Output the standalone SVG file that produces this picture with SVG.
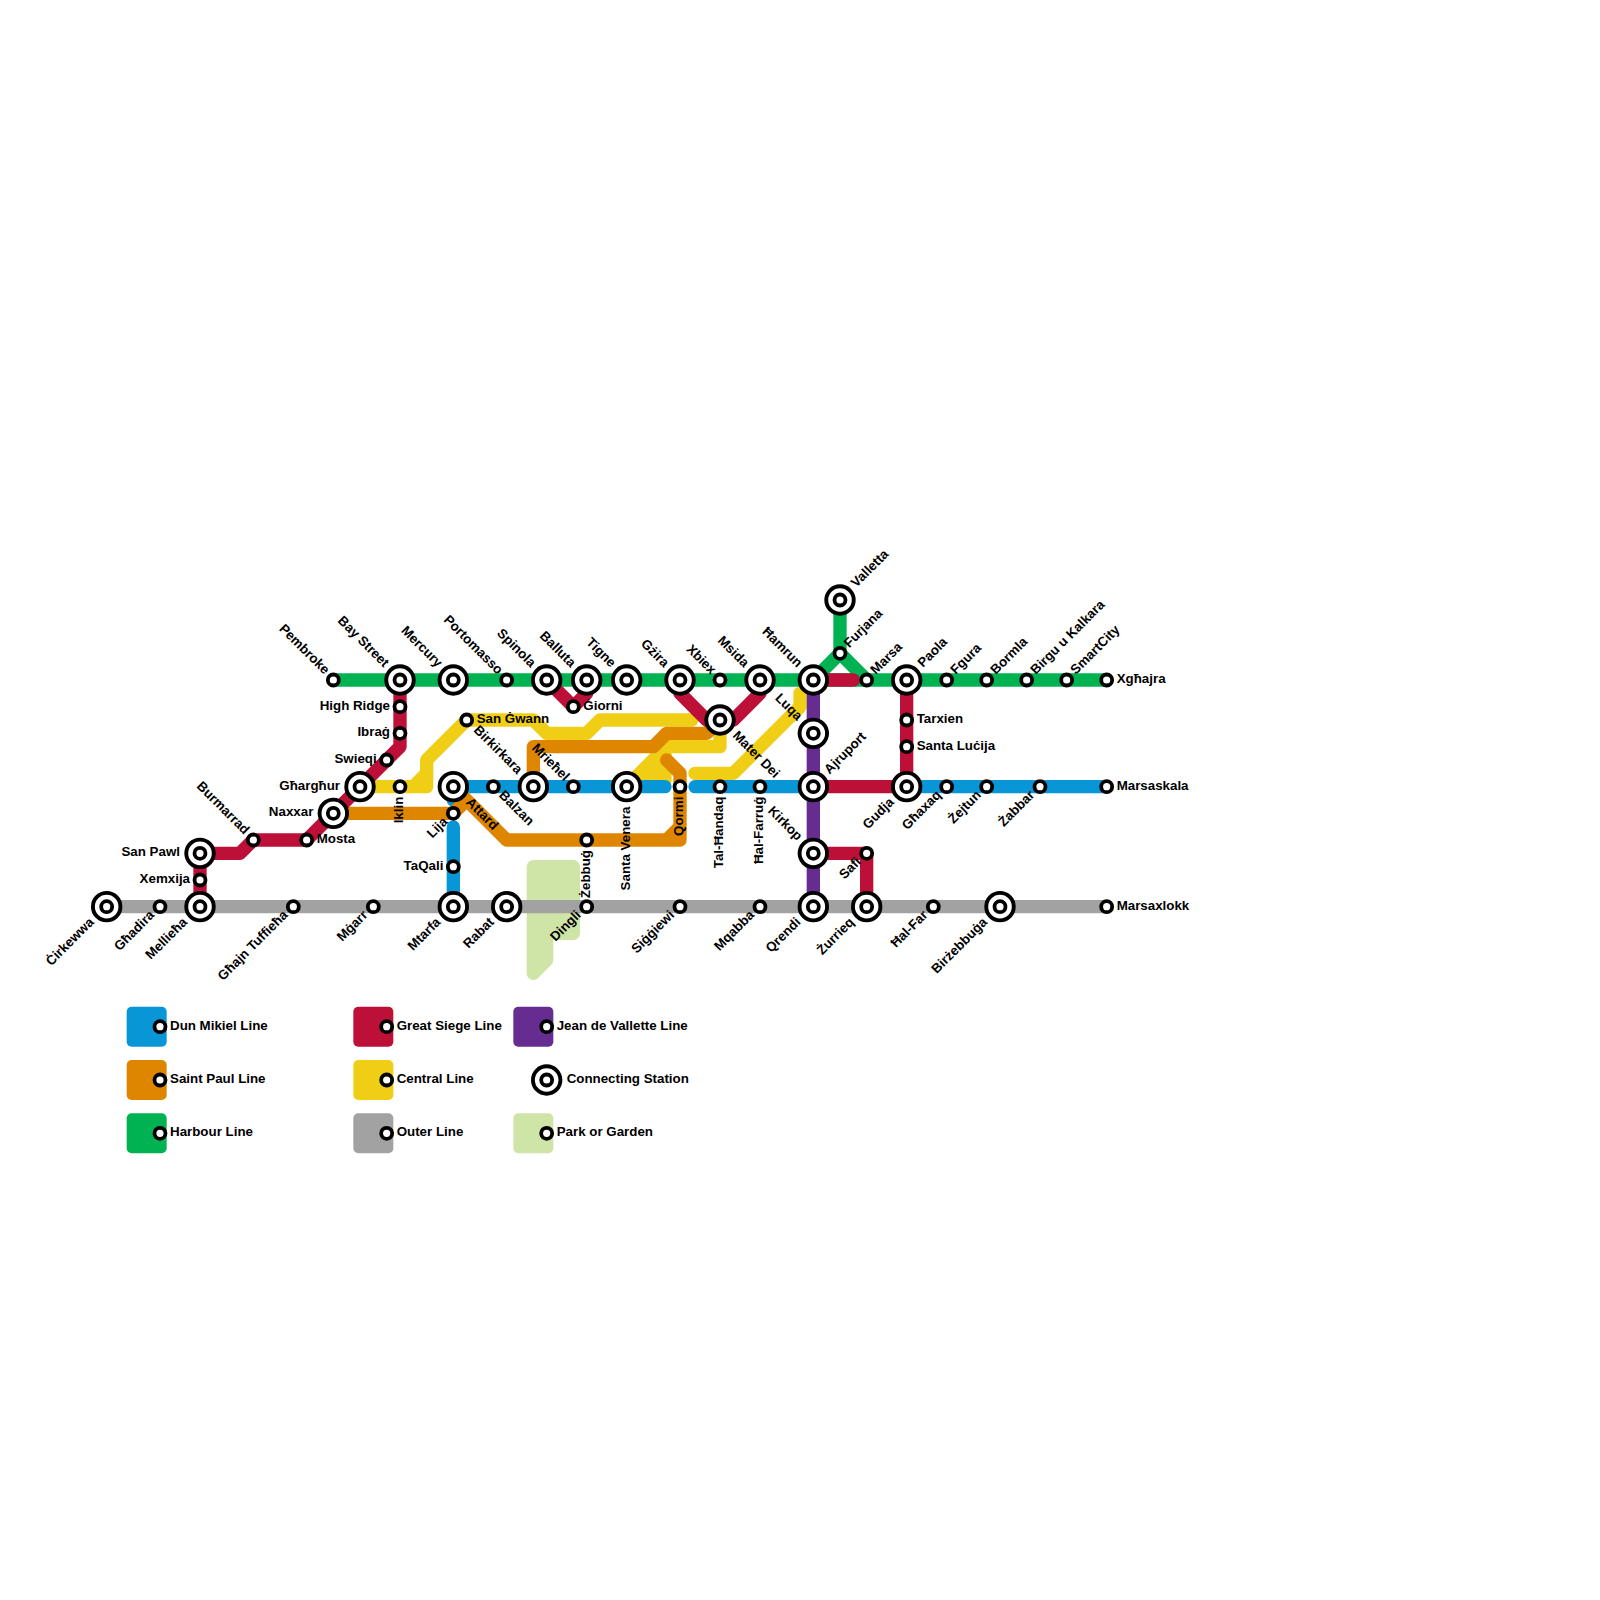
<svg xmlns="http://www.w3.org/2000/svg" width="1600" height="1600" viewBox="0 0 1600 1600">
<style>
.l{fill:none;stroke-width:13.33;stroke-linecap:round;stroke-linejoin:round}
.blue{stroke:#0896d7}.red{stroke:#bd1038}.orange{stroke:#df8600}.yellow{stroke:#f0ce15}.green{stroke:#00b251}.grey{stroke:#a2a2a2}.purple{stroke:#662c90}
.park{stroke:#cfe4a7;fill:#cfe4a7}
.yf{fill:#f0ce15}
.s{fill:#fff;stroke:#000;stroke-width:3.8;r:5.5px}
.c{fill:#fff;stroke:#000;stroke-width:3.9;r:13.75px}
text{font-family:"Liberation Sans",Arial,sans-serif;font-weight:700;font-size:13.33px;fill:#000}
.e{text-anchor:end}
</style>
<g id="connectors">
<path class="l park" d="M533.33 866.67H573.33V933.33H546.67V960L533.33 973.33Z"/>
<path class="l grey" d="M106.67 906.67H1106.67"/>
<path class="l green" d="M333.33 680H1106.67M840 600V653.33L813.33 680M840 653.33L866.67 680"/>
<path class="l yellow" d="M360 786.67H426.67V760L466.67 720H533.33L546.67 733.33H586.67L600 720H691.67M413.33 786.67L426.67 773.33"/>
<path class="l yellow yf" d="M626.67 786.67L665 748.33V780H626.67Z"/>
<path class="l yellow" d="M626.67 786.67L666.67 746.67H720V720"/>
<path class="l yellow" d="M695 773.33H733.33L800 706.67V693.33"/>
<path class="l blue" d="M453.33 906.67V827M453.33 800V786.67H665M695 786.67H813.33M906.67 786.67H1106.67"/>
<path class="l orange" d="M333.33 813.33H453.33L466.67 800M453.33 786.67L506.67 840H680V773.33L666.67 760M666.67 840L680 826.67"/>
<path class="l orange" d="M533.33 786.67V746.67H653.33L666.67 733.33H706.67L720 720"/>
<path class="l red" d="M200 906.67V853.33H240L253.33 840H306.67L400 746.67V680"/>
<path class="l red" d="M546.67 680L573.33 706.67L586.67 693.33V680M680 680V693.33L706.67 720H733.33L760 693.33V680M813.33 680H853.33M813.33 786.67H906.67V680M813.33 853.33H866.67V906.67"/>
<path class="l purple" d="M813.33 680V906.67"/>
</g>
<g id="cirkewwa"><circle class="c" cx="106.67" cy="906.67"/><circle class="s" cx="106.67" cy="906.67"/><text class="e" transform="translate(106.67 906.67) rotate(-45)" x="-20" y="3">Ċirkewwa</text></g>
<g id="ghadira"><circle class="s" cx="160" cy="906.67"/><text class="e" transform="translate(160 906.67) rotate(-45)" x="-10" y="3">Għadira</text></g>
<g id="mellieha"><circle class="c" cx="200" cy="906.67"/><circle class="s" cx="200" cy="906.67"/><text class="e" transform="translate(200 906.67) rotate(-45)" x="-20" y="3">Mellieħa</text></g>
<g id="xemxija"><circle class="s" cx="200" cy="880"/><text class="e" x="190" y="883">Xemxija</text></g>
<g id="san-pawl"><circle class="c" cx="200" cy="853.33"/><circle class="s" cx="200" cy="853.33"/><text class="e" x="180" y="856.33">San Pawl</text></g>
<g id="burmarrad"><circle class="s" cx="253.33" cy="840"/><text class="e" transform="translate(253.33 840) rotate(45)" x="-10" y="3">Burmarrad</text></g>
<g id="mosta"><circle class="s" cx="306.67" cy="840"/><text x="316.67" y="843">Mosta</text></g>
<g id="naxxar"><circle class="c" cx="333.33" cy="813.33"/><circle class="s" cx="333.33" cy="813.33"/><text class="e" x="313.33" y="816.33">Naxxar</text></g>
<g id="gharghur"><circle class="c" cx="360" cy="786.67"/><circle class="s" cx="360" cy="786.67"/><text class="e" x="340" y="789.67">Għargħur</text></g>
<g id="swieqi"><circle class="s" cx="386.67" cy="760"/><text class="e" x="376.67" y="763">Swieqi</text></g>
<g id="ibrag"><circle class="s" cx="400" cy="733.33"/><text class="e" x="390" y="736.33">Ibraġ</text></g>
<g id="high-ridge"><circle class="s" cx="400" cy="706.67"/><text class="e" x="390" y="709.67">High Ridge</text></g>
<g id="bay-street"><circle class="c" cx="400" cy="680"/><circle class="s" cx="400" cy="680"/><text class="e" transform="translate(400 680) rotate(45)" x="-20" y="3">Bay Street</text></g>
<g id="pembroke"><circle class="s" cx="333.33" cy="680"/><text class="e" transform="translate(333.33 680) rotate(45)" x="-10" y="3">Pembroke</text></g>
<g id="mercury"><circle class="c" cx="453.33" cy="680"/><circle class="s" cx="453.33" cy="680"/><text class="e" transform="translate(453.33 680) rotate(45)" x="-20" y="3">Mercury</text></g>
<g id="iklin"><circle class="s" cx="400" cy="786.67"/><text class="e" transform="translate(400 786.67) rotate(-90)" x="-10" y="3">Iklin</text></g>
<g id="san-gwann"><circle class="s" cx="466.67" cy="720"/><text x="476.67" y="723">San Ġwann</text></g>
<g id="attard"><circle class="c" cx="453.33" cy="786.67"/><circle class="s" cx="453.33" cy="786.67"/><text transform="translate(453.33 786.67) rotate(45)" x="20" y="3">Attard</text></g>
<g id="lija"><circle class="s" cx="453.33" cy="813.33"/><text class="e" transform="translate(453.33 813.33) rotate(-45)" x="-10" y="3">Lija</text></g>
<g id="taqali"><circle class="s" cx="453.33" cy="866.67"/><text class="e" x="443.33" y="869.67">TaQali</text></g>
<g id="mtarfa"><circle class="c" cx="453.33" cy="906.67"/><circle class="s" cx="453.33" cy="906.67"/><text class="e" transform="translate(453.33 906.67) rotate(-45)" x="-20" y="3">Mtarfa</text></g>
<g id="balzan"><circle class="s" cx="493.33" cy="786.67"/><text transform="translate(493.33 786.67) rotate(45)" x="10" y="3">Balzan</text></g>
<g id="birkirkara"><circle class="c" cx="533.33" cy="786.67"/><circle class="s" cx="533.33" cy="786.67"/><text class="e" transform="translate(533.33 786.67) rotate(45)" x="-20" y="3">Birkirkara</text></g>
<g id="mriehel"><circle class="s" cx="573.33" cy="786.67"/><text class="e" transform="translate(573.33 786.67) rotate(45)" x="-10" y="3">Mrieħel</text></g>
<g id="santa-venera"><circle class="c" cx="626.67" cy="786.67"/><circle class="s" cx="626.67" cy="786.67"/><text class="e" transform="translate(626.67 786.67) rotate(-90)" x="-20" y="3">Santa Venera</text></g>
<g id="qormi"><circle class="s" cx="680" cy="786.67"/><text class="e" transform="translate(680 786.67) rotate(-90)" x="-10" y="3">Qormi</text></g>
<g id="tal-handaq"><circle class="s" cx="720" cy="786.67"/><text class="e" transform="translate(720 786.67) rotate(-90)" x="-10" y="3">Tal-Ħandaq</text></g>
<g id="hal-farrug"><circle class="s" cx="760" cy="786.67"/><text class="e" transform="translate(760 786.67) rotate(-90)" x="-10" y="3">Ħal-Farruġ</text></g>
<g id="ajruport"><circle class="c" cx="813.33" cy="786.67"/><circle class="s" cx="813.33" cy="786.67"/><text transform="translate(813.33 786.67) rotate(-45)" x="20" y="3">Ajruport</text></g>
<g id="zebbug"><circle class="s" cx="586.67" cy="840"/><text class="e" transform="translate(586.67 840) rotate(-90)" x="-10" y="3">Żebbuġ</text></g>
<g id="dingli"><circle class="s" cx="586.67" cy="906.67"/><text class="e" transform="translate(586.67 906.67) rotate(-45)" x="-10" y="3">Dingli</text></g>
<g id="rabat"><circle class="c" cx="506.67" cy="906.67"/><circle class="s" cx="506.67" cy="906.67"/><text class="e" transform="translate(506.67 906.67) rotate(-45)" x="-20" y="3">Rabat</text></g>
<g id="ghajn-tuffieha"><circle class="s" cx="293.33" cy="906.67"/><text class="e" transform="translate(293.33 906.67) rotate(-45)" x="-10" y="3">Għajn Tuffieħa</text></g>
<g id="mgarr"><circle class="s" cx="373.33" cy="906.67"/><text class="e" transform="translate(373.33 906.67) rotate(-45)" x="-10" y="3">Mġarr</text></g>
<g id="siggiewi"><circle class="s" cx="680" cy="906.67"/><text class="e" transform="translate(680 906.67) rotate(-45)" x="-10" y="3">Siġġiewi</text></g>
<g id="mqabba"><circle class="s" cx="760" cy="906.67"/><text class="e" transform="translate(760 906.67) rotate(-45)" x="-10" y="3">Mqabba</text></g>
<g id="qrendi"><circle class="c" cx="813.33" cy="906.67"/><circle class="s" cx="813.33" cy="906.67"/><text class="e" transform="translate(813.33 906.67) rotate(-45)" x="-20" y="3">Qrendi</text></g>
<g id="zurrieq"><circle class="c" cx="866.67" cy="906.67"/><circle class="s" cx="866.67" cy="906.67"/><text class="e" transform="translate(866.67 906.67) rotate(-45)" x="-20" y="3">Żurrieq</text></g>
<g id="hal-far"><circle class="s" cx="933.33" cy="906.67"/><text class="e" transform="translate(933.33 906.67) rotate(-45)" x="-10" y="3">Ħal-Far</text></g>
<g id="birzebbuga"><circle class="c" cx="1000" cy="906.67"/><circle class="s" cx="1000" cy="906.67"/><text class="e" transform="translate(1000 906.67) rotate(-45)" x="-20" y="3">Birżebbuġa</text></g>
<g id="marsaxlokk"><circle class="s" cx="1106.67" cy="906.67"/><text x="1116.67" y="909.67">Marsaxlokk</text></g>
<g id="portomasso"><circle class="s" cx="506.67" cy="680"/><text class="e" transform="translate(506.67 680) rotate(45)" x="-10" y="3">Portomasso</text></g>
<g id="spinola"><circle class="c" cx="546.67" cy="680"/><circle class="s" cx="546.67" cy="680"/><text class="e" transform="translate(546.67 680) rotate(45)" x="-20" y="3">Spinola</text></g>
<g id="balluta"><circle class="c" cx="586.67" cy="680"/><circle class="s" cx="586.67" cy="680"/><text class="e" transform="translate(586.67 680) rotate(45)" x="-20" y="3">Balluta</text></g>
<g id="tigne"><circle class="c" cx="626.67" cy="680"/><circle class="s" cx="626.67" cy="680"/><text class="e" transform="translate(626.67 680) rotate(45)" x="-20" y="3">Tigne</text></g>
<g id="gzira"><circle class="c" cx="680" cy="680"/><circle class="s" cx="680" cy="680"/><text class="e" transform="translate(680 680) rotate(45)" x="-20" y="3">Gżira</text></g>
<g id="xbiex"><circle class="s" cx="720" cy="680"/><text class="e" transform="translate(720 680) rotate(45)" x="-10" y="3">Xbiex</text></g>
<g id="msida"><circle class="c" cx="760" cy="680"/><circle class="s" cx="760" cy="680"/><text class="e" transform="translate(760 680) rotate(45)" x="-20" y="3">Msida</text></g>
<g id="hamrun"><circle class="c" cx="813.33" cy="680"/><circle class="s" cx="813.33" cy="680"/><text class="e" transform="translate(813.33 680) rotate(45)" x="-20" y="3">Ħamrun</text></g>
<g id="marsa"><circle class="s" cx="866.67" cy="680"/><text transform="translate(866.67 680) rotate(-45)" x="10" y="3">Marsa</text></g>
<g id="paola"><circle class="c" cx="906.67" cy="680"/><circle class="s" cx="906.67" cy="680"/><text transform="translate(906.67 680) rotate(-45)" x="20" y="3">Paola</text></g>
<g id="fgura"><circle class="s" cx="946.67" cy="680"/><text transform="translate(946.67 680) rotate(-45)" x="10" y="3">Fgura</text></g>
<g id="bormla"><circle class="s" cx="986.67" cy="680"/><text transform="translate(986.67 680) rotate(-45)" x="10" y="3">Bormla</text></g>
<g id="birgu"><circle class="s" cx="1026.67" cy="680"/><text transform="translate(1026.67 680) rotate(-45)" x="10" y="3">Birgu u Kalkara</text></g>
<g id="smartcity"><circle class="s" cx="1066.67" cy="680"/><text transform="translate(1066.67 680) rotate(-45)" x="10" y="3">SmartCity</text></g>
<g id="xghajra"><circle class="s" cx="1106.67" cy="680"/><text x="1116.67" y="683">Xgħajra</text></g>
<g id="giorni"><circle class="s" cx="573.33" cy="706.67"/><text x="583.33" y="709.67">Ġiorni</text></g>
<g id="mater-dei"><circle class="c" cx="720" cy="720"/><circle class="s" cx="720" cy="720"/><text transform="translate(720 720) rotate(45)" x="20" y="3">Mater Dei</text></g>
<g id="luqa"><circle class="c" cx="813.33" cy="733.33"/><circle class="s" cx="813.33" cy="733.33"/><text class="e" transform="translate(813.33 733.33) rotate(45)" x="-20" y="3">Luqa</text></g>
<g id="valletta"><circle class="c" cx="840" cy="600"/><circle class="s" cx="840" cy="600"/><text transform="translate(840 600) rotate(-45)" x="20" y="3">Valletta</text></g>
<g id="furjana"><circle class="s" cx="840" cy="653.33"/><text transform="translate(840 653.33) rotate(-45)" x="10" y="3">Furjana</text></g>
<g id="tarxien"><circle class="s" cx="906.67" cy="720"/><text x="916.67" y="723">Tarxien</text></g>
<g id="santa-lucija"><circle class="s" cx="906.67" cy="746.67"/><text x="916.67" y="749.67">Santa Luċija</text></g>
<g id="gudja"><circle class="c" cx="906.67" cy="786.67"/><circle class="s" cx="906.67" cy="786.67"/><text class="e" transform="translate(906.67 786.67) rotate(-45)" x="-20" y="3">Gudja</text></g>
<g id="ghaxaq"><circle class="s" cx="946.67" cy="786.67"/><text class="e" transform="translate(946.67 786.67) rotate(-45)" x="-10" y="3">Għaxaq</text></g>
<g id="zejtun"><circle class="s" cx="986.67" cy="786.67"/><text class="e" transform="translate(986.67 786.67) rotate(-45)" x="-10" y="3">Żejtun</text></g>
<g id="zabbar"><circle class="s" cx="1040" cy="786.67"/><text class="e" transform="translate(1040 786.67) rotate(-45)" x="-10" y="3">Żabbar</text></g>
<g id="marsaskala"><circle class="s" cx="1106.67" cy="786.67"/><text x="1116.67" y="789.67">Marsaskala</text></g>
<g id="kirkop"><circle class="c" cx="813.33" cy="853.33"/><circle class="s" cx="813.33" cy="853.33"/><text class="e" transform="translate(813.33 853.33) rotate(45)" x="-20" y="3">Kirkop</text></g>
<g id="safi"><circle class="s" cx="866.67" cy="853.33"/><text class="e" transform="translate(866.67 853.33) rotate(-45)" x="-10" y="3">Safi</text></g>
<g id="legend">
<rect x="126.67" y="1006.67" width="40" height="40" rx="5" fill="#0896d7"/><circle class="s" cx="160" cy="1026.67"/><text x="170" y="1029.67">Dun Mikiel Line</text>
<rect x="126.67" y="1060" width="40" height="40" rx="5" fill="#df8600"/><circle class="s" cx="160" cy="1080"/><text x="170" y="1083">Saint Paul Line</text>
<rect x="126.67" y="1113.33" width="40" height="40" rx="5" fill="#00b251"/><circle class="s" cx="160" cy="1133.33"/><text x="170" y="1136.33">Harbour Line</text>
<rect x="353.33" y="1006.67" width="40" height="40" rx="5" fill="#bd1038"/><circle class="s" cx="386.67" cy="1026.67"/><text x="396.67" y="1029.67">Great Siege Line</text>
<rect x="353.33" y="1060" width="40" height="40" rx="5" fill="#f0ce15"/><circle class="s" cx="386.67" cy="1080"/><text x="396.67" y="1083">Central Line</text>
<rect x="353.33" y="1113.33" width="40" height="40" rx="5" fill="#a2a2a2"/><circle class="s" cx="386.67" cy="1133.33"/><text x="396.67" y="1136.33">Outer Line</text>
<rect x="513.33" y="1006.67" width="40" height="40" rx="5" fill="#662c90"/><circle class="s" cx="546.67" cy="1026.67"/><text x="556.67" y="1029.67">Jean de Vallette Line</text>
<circle class="c" cx="546.67" cy="1080"/><circle class="s" cx="546.67" cy="1080"/><text x="566.67" y="1083">Connecting Station</text>
<rect x="513.33" y="1113.33" width="40" height="40" rx="5" fill="#cfe4a7"/><circle class="s" cx="546.67" cy="1133.33"/><text x="556.67" y="1136.33">Park or Garden</text>
</g>
</svg>
